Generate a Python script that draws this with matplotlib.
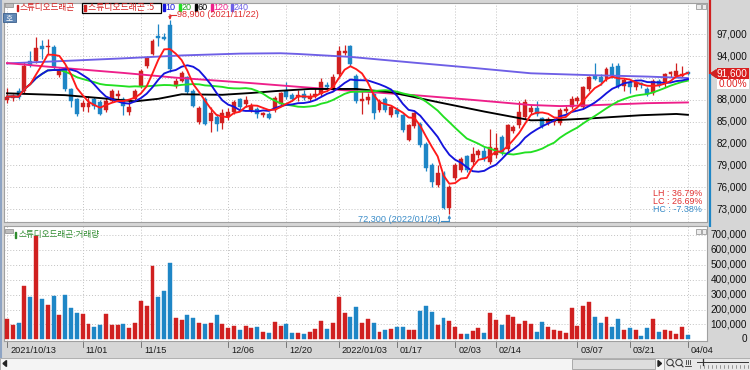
import matplotlib
matplotlib.use("Agg")
import matplotlib.pyplot as plt
from matplotlib.patches import Rectangle, Polygon, Circle
import numpy as np
import pandas as pd

# ---------------- data ----------------
opens = [88000, 88200, 89270, 89270, 93360, 93360, 95360, 95300, 95320, 91450,
         92360, 89500, 88140, 87000, 87000, 88140, 87680, 86550, 87900, 88600,
         88140, 86320, 88140, 89960, 92680, 94360, 96820, 96600, 98300, 89960,
         90640, 91090, 89270, 84960, 88140, 85090, 85640, 84820, 85640, 86320,
         88140, 87500, 86550, 86800, 85860, 86090, 86550, 87450, 89180, 88730,
         88360, 88800, 88140, 88600, 88820, 90100, 89500, 91550, 94400, 95360,
         91300, 87820, 88000, 88820, 86640, 88140, 85860, 86600, 85860, 82550,
         84360, 84730, 82000, 79050, 76320, 78000, 73140, 77230, 78360, 80270,
         79500, 80400, 80950, 79500, 80500, 82910, 81320, 83730, 84500, 85640,
         86300, 86860, 85500, 84820, 84900, 84820, 86500, 87000, 87900, 87000,
         89500, 91320, 91100, 90860, 92500, 92680, 89960, 90500, 89730, 90300,
         89500, 88900, 90640, 90410, 91550, 91300, 91300, 91800]
highs = [89700, 88800, 89700, 93140, 94700, 96640, 96180, 96300, 95500, 92400,
         92600, 89700, 88300, 88000, 88600, 88400, 88000, 88300, 89500, 89300,
         88400, 88100, 89500, 92230, 94000, 96300, 98360, 97200, 98900, 91000,
         92000, 91300, 89500, 87100, 88360, 87000, 86000, 86800, 86900, 88000,
         88300, 88600, 87600, 87000, 86400, 86300, 88500, 89100, 90400, 89000,
         89300, 89300, 89000, 89700, 91000, 90500, 91600, 95400, 95550, 95500,
         91500, 89270, 88900, 89000, 88100, 88400, 87300, 87000, 86100, 84700,
         86400, 85000, 82200, 79300, 79000, 78300, 76300, 79300, 80100, 80500,
         81500, 81300, 81500, 84050, 83500, 83200, 84700, 84500, 87820, 88100,
         87300, 87800, 85700, 85700, 85500, 86900, 87200, 88600, 88500, 89900,
         91300, 93000, 91600, 92500, 93000, 93100, 91000, 90800, 90600, 90500,
         89800, 90800, 90900, 91700, 92000, 93000, 92700, 92000]
lows = [87600, 87900, 88100, 89000, 92500, 93100, 93600, 94300, 92300, 91200,
        89200, 87000, 85730, 86500, 86300, 86800, 85900, 86300, 87700, 88000,
        85860, 85900, 87800, 89700, 92400, 94100, 95400, 96200, 91800, 89700,
        90400, 88800, 87000, 84700, 84500, 83590, 83800, 84050, 85300, 86000,
        86800, 87000, 86300, 85550, 85700, 85400, 86300, 87200, 88100, 87900,
        87900, 88000, 87900, 88300, 88600, 89500, 89200, 91300, 94200, 92700,
        87600, 86090, 87500, 85410, 86400, 86300, 85600, 85700, 83600, 82300,
        84100, 81500, 78300, 76090, 76000, 73000, 72300, 77000, 78100, 78100,
        79000, 80000, 79600, 79200, 80000, 80500, 81000, 83400, 84200, 85400,
        86000, 85800, 84100, 84600, 84500, 84600, 86200, 86800, 87500, 86800,
        89200, 90700, 90000, 90600, 91000, 89700, 89200, 89000, 89300, 89600,
        88500, 88700, 89800, 89800, 91200, 91100, 91100, 91400]
closes = [88450, 88500, 88360, 92680, 92820, 95090, 95000, 95450, 92550, 92090,
          89500, 87910, 86090, 87640, 87600, 87230, 86090, 87910, 89180, 88800,
          87230, 87090, 89270, 92000, 93730, 96090, 96450, 96400, 92200, 90550,
          91730, 89050, 87230, 86860, 84730, 86180, 84640, 86230, 86300, 87680,
          87000, 88000, 87230, 86090, 86180, 85550, 88270, 88950, 88360, 88140,
          88700, 88270, 88600, 88800, 90500, 89800, 91090, 94640, 94640, 92910,
          87800, 88140, 88400, 86180, 87820, 86550, 87090, 86000, 83820, 84500,
          86180, 81770, 78590, 76770, 77910, 73140, 76090, 79050, 79860, 78360,
          80640, 81000, 79860, 81550, 81400, 80860, 84500, 84270, 86320, 87680,
          86900, 86090, 84360, 85410, 85200, 86550, 86700, 88140, 88300, 89730,
          91090, 90860, 90400, 92230, 91300, 89960, 90730, 89730, 90400, 90000,
          88820, 90640, 90100, 91550, 91800, 92000, 91600, 91600]
volumes = [134000, 96000, 111000, 360000, 284000, 690000, 270000, 230000, 293000, 163000,
           297000, 212000, 174000, 168000, 103000, 80000, 96000, 170000, 96000, 96000,
           103000, 78000, 111000, 257000, 226000, 494000, 284000, 324000, 510000, 145000,
           130000, 163000, 145000, 111000, 100000, 111000, 163000, 100000, 78000, 91000,
           62000, 91000, 78000, 85000, 51000, 42000, 118000, 91000, 102000, 45000,
           45000, 36000, 51000, 69000, 122000, 69000, 107000, 284000, 174000, 152000,
           219000, 107000, 136000, 107000, 51000, 62000, 69000, 80000, 80000, 62000,
           62000, 190000, 225000, 185000, 96000, 140000, 122000, 83000, 36000, 36000,
           56000, 78000, 45000, 174000, 130000, 96000, 163000, 152000, 102000, 125000,
           100000, 51000, 113000, 85000, 62000, 58000, 40000, 208000, 88000, 226000,
           252000, 152000, 111000, 152000, 83000, 134000, 62000, 74000, 60000, 24000,
           74000, 134000, 51000, 60000, 56000, 36000, 83000, 29000]

# long moving averages at a few candles
ma60_idx = [0, 10, 16, 22, 26, 30, 37, 42, 46, 52, 60, 66, 74, 82, 90, 95, 100, 109, 115, 117]
ma60_val = [88900, 88650, 88250, 87800, 88150, 88770, 88700, 88950, 89200, 89500,
            89500, 89050, 87700, 86400, 85200, 85250, 85450, 85900, 86070, 85950]
ma120_idx = [0, 10, 20, 29, 42, 50, 60, 70, 80, 90, 95, 100, 110, 117]
ma120_val = [93050, 92350, 91700, 91050, 90300, 89800, 89200, 88650, 88000, 87300,
             87150, 87250, 87550, 87650]
ma240_idx = [0, 10, 20, 30, 40, 47, 50, 59, 70, 80, 90, 100, 110, 117]
ma240_val = [93000, 93350, 93700, 94100, 94350, 94400, 94300, 93900, 93100, 92400,
             91650, 91400, 91200, 91000]

tick_idx = [0, 13, 23, 38, 48, 57, 67, 77, 84, 98, 107, 117]
tick_labels = ['2021/10/13', '11/01', '11/15', '12/06', '12/20', '2022/01/03',
               '01/17', '02/03', '02/14', '03/07', '03/21', '04/04']
high_date = '2021/11/22'
low_date = '2022/01/28'
price_ticks = [97000, 94000, 91000, 88000, 85000, 82000, 79000, 76000, 73000]
price_labels_shown = [97000, 94000, 88000, 85000, 82000, 79000, 76000, 73000]
vol_ticks = [0, 100000, 200000, 300000, 400000, 500000, 600000, 700000]
stock_name = '스튜디오드래곤'
ma_periods = [10, 20, 60, 120, 240]

# ---------------- style ----------------
W, H = 750, 370
KR = ['Noto Sans CJK KR', 'DejaVu Sans']
NUM = ['Liberation Sans', 'DejaVu Sans']
RED = '#d02020'
BLUE = '#1e86c6'
C5, C10, C20, C60, C120, C240 = '#ff1a1a', '#1414dc', '#22e022', '#000000', '#ee1f8a', '#6e5fe6'

fig = plt.figure(figsize=(7.5, 3.7), dpi=100)
fig.patch.set_facecolor('#d6d6d6')


def frac(x0, y0, x1, y1):
    return [x0 / W, 1 - y1 / H, (x1 - x0) / W, (y1 - y0) / H]


axp = fig.add_axes(frac(4, 3, 707, 222))
axv = fig.add_axes(frac(4, 226, 707, 341))
for ax in (axp, axv):
    ax.set_facecolor('white')
    ax.set_xlim(-0.515, 120.27)
    ax.set_xticks([])
    ax.set_yticks([])
    for s in ax.spines.values():
        s.set_color('#a0a0a0')
        s.set_linewidth(0.8)
axp.set_ylim(71247, 101294)
axv.set_ylim(-11400, 760400)

grid_kw = dict(color='#c2c2c2', lw=0.7, ls=(0, (1, 2)), zorder=1)
for v in price_ticks:
    axp.axhline(v, **grid_kw)
for v in vol_ticks[1:]:
    axv.axhline(v, **grid_kw)
for t in tick_idx:
    axp.axvline(t, **grid_kw)
    axv.axvline(t, **grid_kw)

x = np.arange(len(closes))
o = np.array(opens, float)
c = np.array(closes, float)
h = np.array(highs, float)
l = np.array(lows, float)
up = c >= o
cols = np.where(up, RED, BLUE)
bottom = np.minimum(o, c)
height = np.maximum(np.abs(c - o), 140)

axp.vlines(x, l, h, colors=cols, lw=0.9, zorder=3)
axp.bar(x, height, bottom=bottom, width=0.68, color=cols, edgecolor=cols, lw=0.3, zorder=4)

cs = pd.Series(closes, dtype=float)
ma5 = cs.rolling(5, min_periods=1).mean()
ma10 = cs.rolling(10, min_periods=1).mean()
ma20 = cs.rolling(20, min_periods=1).mean()
axp.plot(ma240_idx, ma240_val, color=C240, lw=1.35, zorder=5)
axp.plot(ma120_idx, ma120_val, color=C120, lw=1.35, zorder=5)
axp.plot(ma60_idx, ma60_val, color=C60, lw=1.35, zorder=5)
axp.plot(x, ma20, color=C20, lw=1.35, zorder=6)
axp.plot(x, ma10, color=C10, lw=1.35, zorder=6)
axp.plot(x, ma5, color=C5, lw=1.35, zorder=7)

axv.bar(x, volumes, width=0.68, color=cols, edgecolor=cols, lw=0.3, zorder=3)

# right axis labels
xr = (747 - 4) / 703
for v in price_labels_shown:
    axp.text(xr, v, f'{v:,}', transform=axp.get_yaxis_transform(), ha='right', va='center',
             fontsize=7.2, family=NUM, color='#111111', clip_on=False)
for v in vol_ticks:
    axv.text(xr, v, f'{v:,}', transform=axv.get_yaxis_transform(), ha='right', va='center',
             fontsize=7.2, family=NUM, color='#111111', clip_on=False)

# overlay in pixel coordinates
ov = fig.add_axes([0, 0, 1, 1], zorder=10)
ov.set_xlim(0, W)
ov.set_ylim(H, 0)
ov.axis('off')
ov.patch.set_alpha(0)


def to_px(ax, xi, yv):
    dx, dy = ax.transData.transform((xi, yv))
    return dx, H - dy


# current price bar / box
last = closes[-1]
chg = (closes[-1] - closes[-2]) / closes[-2] * 100
_, yl = to_px(axp, 0, last)
ov.plot([709.5, 709.5], [0, yl], color=RED, lw=1.6, solid_capstyle='butt')
ov.plot([709.5, 709.5], [yl, 227], color=BLUE, lw=1.6, solid_capstyle='butt')
ov.add_patch(Polygon([(710.5, yl), (716.5, yl - 4), (716.5, yl + 4)], closed=True, color=RED))
ov.add_patch(Rectangle((717, yl - 6), 32, 11.5, fc='#d81e1e', ec='none'))
ov.text(747, yl - 0.3, f'{last:,}', color='white', fontsize=7.2, family=NUM, ha='right', va='center')
ov.add_patch(Rectangle((717, yl + 5.5), 32, 10, fc='white', ec='none'))
ov.text(747, yl + 10.5, f'{chg:.2f}%', color='#e02020', fontsize=7.2, family=NUM, ha='right', va='center')

# high / low annotations
ih = int(np.argmax(h))
il = int(np.argmin(l))
RT = '#e03030'
BT = '#3a8cc8'
xh, yh = to_px(axp, ih, h[ih])
ya = 14.5
ov.annotate('', xy=(xh, yh - 0.5), xytext=(xh, ya),
            arrowprops=dict(arrowstyle='-|>', color=RT, lw=0.8, mutation_scale=4, shrinkA=0, shrinkB=0))
ov.plot([xh, xh + 6], [ya, ya], color=RT, lw=0.8)
ov.text(xh + 7, ya + 0.3, f'{int(h[ih]):,} ({high_date})', color=RT, fontsize=6.6, family=NUM,
        ha='left', va='center')
xlw, ylw = to_px(axp, il, l[il])
ov.annotate('', xy=(xlw, ylw + 0.5), xytext=(xlw, 221),
            arrowprops=dict(arrowstyle='-|>', color=BT, lw=0.8, mutation_scale=4, shrinkA=0, shrinkB=0))
ov.plot([xlw - 8, xlw], [221, 221], color=BT, lw=0.8)
ov.text(xlw - 9, 219.8, f'{int(l[il]):,} ({low_date})', color=BT, fontsize=6.6, family=NUM,
        ha='right', va='center')

# LH / LC / HC
lh = (h[ih] - l[il]) / l[il] * 100
lc = (last - l[il]) / l[il] * 100
hc = (last - h[ih]) / h[ih] * 100
for yy, txt, col in [(194, f'LH : {lh:.2f}%', RT), (202, f'LC : {lc:.2f}%', RT), (210, f'HC : {hc:.2f}%', BT)]:
    ov.text(702, yy, txt, color=col, fontsize=6.4, family=NUM, ha='right', va='center')

# header legend
ov.add_patch(Rectangle((5, 2.5), 8, 4, fc='#bdbdbd', ec='#8a8a8a', lw=0.5))
ov.add_patch(Rectangle((16.5, 4.5), 1.8, 6.5, color=RED))
ov.text(20, 7.8, stock_name, color='#d42020', fontsize=6.2, family=KR, ha='left', va='center')
ov.add_patch(Rectangle((82, 2.5), 79, 10, fill=False, ec='black', lw=0.9))
ov.add_patch(Rectangle((84, 4.5), 1.8, 6.5, color=RED))
ov.text(87.5, 7.8, f'{stock_name} :5', color='#d42020', fontsize=6.4, family=KR, ha='left', va='center')
for xb, p, col in zip([163, 179, 195, 211, 231], ma_periods, [C10, C20, C60, C120, C240]):
    ov.add_patch(Rectangle((xb, 4.3), 1.8, 6.2, color=col))
    ov.text(xb + 2.8, 7.3, str(p), color=col if p != 20 else '#1aa01a', fontsize=6.5, family=NUM,
            ha='left', va='center')

# small buttons
ov.add_patch(Rectangle((3, 13), 13, 9, fc='#5f86b4', ec='#3c5f8c', lw=0.6))
ov.text(9.5, 17.6, '호', color='white', fontsize=5.5, family=KR, ha='center', va='center')
for yb in (4, 229):
    for xb in (696, 701.5):
        ov.add_patch(Rectangle((xb, yb), 4.5, 4.5, fc='#ececec', ec='#8a8a8a', lw=0.5))

# volume legend
ov.add_patch(Rectangle((5, 229), 8, 3.5, fc='#bdbdbd', ec='#8a8a8a', lw=0.5))
ov.add_patch(Rectangle((14.5, 231.5), 1.8, 6, color='#2e8b2e'))
ov.text(18.5, 234.6, f'{stock_name}:거래량', color='#2e8b2e', fontsize=6.2, family=KR, ha='left', va='center')

# x tick labels
for t, lab in zip(tick_idx, tick_labels):
    xt, _ = to_px(axv, t, 0)
    ov.plot([xt, xt], [342, 347], color='#666666', lw=0.6)
    ov.text(xt + 3, 350.5, lab, color='#1a1a1a', fontsize=6.6, family=NUM, ha='left', va='center')

# left border
ov.plot([1, 1], [0, 357], color='#8ea4c4', lw=1.5)

# scroll bar row
ov.add_patch(Rectangle((0, 357.5), 664, 12.5, fc='#f4f4f4', ec='#a8a8a8', lw=0.6))
ov.add_patch(Polygon([(3, 363.5), (6.5, 360.5), (6.5, 366.5)], closed=True, color='#222222'))
ov.add_patch(Rectangle((572, 358.5), 83, 10, fc='#dedede', ec='#a0a0a0', lw=0.6))
ov.add_patch(Polygon([(661.5, 363.5), (658, 360.5), (658, 366.5)], closed=True, color='#222222'))
ov.add_patch(Rectangle((664, 357.5), 86, 12.5, fc='#e8e8e8', ec='#a8a8a8', lw=0.6))
for cx in (670, 679):
    ov.add_patch(Circle((cx, 362.5), 3.2, fill=False, ec='#333333', lw=0.7))
    ov.plot([cx + 2.2, cx + 4], [364.7, 366.8], color='#333333', lw=0.8)
for xx in (686, 688, 690):
    ov.plot([xx, xx], [359.5, 363.5], color='#333333', lw=0.6)
ov.plot([685, 691], [366, 366], color='#333333', lw=0.6)
ov.plot([697, 748], [361.5, 361.5], color='#333333', lw=0.7)
ov.plot([703, 703], [359, 364.5], color='#333333', lw=0.9)
for xx in np.arange(700, 749, 4):
    ov.plot([xx, xx], [365, 368], color='#555555', lw=0.4)

fig.savefig('out.png', dpi=100, facecolor=fig.get_facecolor())
